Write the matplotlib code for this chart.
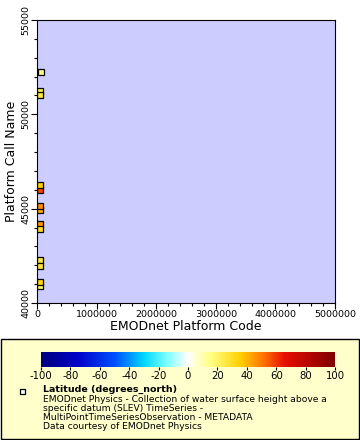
import numpy as np
import matplotlib
matplotlib.use("Agg")
import matplotlib.pyplot as plt
from matplotlib.colors import LinearSegmentedColormap, Normalize
from matplotlib.patches import Rectangle
from matplotlib.ticker import MultipleLocator, ScalarFormatter

plt.rcParams["axes.unicode_minus"] = False

# platform code (x), call name (y), latitude (colour) -- drawn in this order
platform_code = [60000, 55000, 55000, 50000, 55000, 50000, 55000, 50000, 55000, 50000, 50000, 45000, 45000]
call_name = [52258, 51237, 51022, 45970, 46237, 44946, 45161, 44193, 43925, 42258, 41935, 40914, 41129]
latitude = [16, 24, 26, 58, 36, 42, 47, 46, 30, 26, 27, 20, 33]

cbar_ticks = [-100, -80, -60, -40, -20, 0, 20, 40, 60, 80, 100]

cmap = LinearSegmentedColormap.from_list("erddap", [
    (0.00, "#000080"), (0.12, "#0000C8"), (0.25, "#0050FF"),
    (0.35, "#00D8FF"), (0.43, "#80FFFF"), (0.50, "#FFFFFF"),
    (0.58, "#FFFF80"), (0.68, "#FFD000"), (0.76, "#FF7000"),
    (0.83, "#E81000"), (1.00, "#800000")])
norm = Normalize(-100, 100)

fig = plt.figure(figsize=(3.6, 4.4), dpi=100)

# legend box behind everything
fig.patches.append(Rectangle((0.5/360, 1-439/440), 358/360, 100/440,
                             transform=fig.transFigure, facecolor="#FFFFCC",
                             edgecolor="black", linewidth=1, zorder=-5))

ax = fig.add_axes([37/360, 1-303/440, 298/360, 283/440])
ax.set_facecolor("#CCCCFF")

for x, y, lat in zip(platform_code, call_name, latitude):
    ax.plot(x, y, "s", ms=5, mfc=cmap(norm(lat)), mec="black", mew=0.9)

ax.set_xlim(0, 5000000)
ax.set_ylim(40000, 55000)
fmt = ScalarFormatter(useOffset=False)
fmt.set_scientific(False)
ax.xaxis.set_major_formatter(fmt)
ax.xaxis.set_major_locator(MultipleLocator(1000000))
ax.xaxis.set_minor_locator(MultipleLocator(200000))
ax.yaxis.set_major_locator(MultipleLocator(5000))
ax.yaxis.set_minor_locator(MultipleLocator(1000))
ax.tick_params(labelsize=6.8, length=4, width=0.8, pad=1)
ax.tick_params(which="minor", length=2, width=0.8)
for lbl in ax.get_yticklabels():
    lbl.set_rotation(90)
    lbl.set_va("center")
ax.set_xlabel("EMODnet Platform Code", fontsize=9, labelpad=1)
ax.set_ylabel("Platform Call Name", fontsize=9, labelpad=2)

cax = fig.add_axes([41/360, 1-367/440, 294/360, 15/440])
grad = np.linspace(-100, 100, 400).reshape(1, -1)
cax.imshow(grad, aspect="auto", cmap=cmap, norm=norm, extent=[-100, 100, 0, 1])
cax.set_yticks([])
cax.set_xticks(cbar_ticks)
cax.tick_params(labelsize=7.3, length=2, pad=1)
for s in cax.spines.values():
    s.set_visible(False)

fig.patches.append(Rectangle((19.5/360, 1-393.5/440), 5/360, 5/440,
                             transform=fig.transFigure, facecolor="white",
                             edgecolor="black", linewidth=0.9))
fig.text(43/360, 1-389/440, "Latitude (degrees_north)", fontsize=6.8,
         fontweight="bold", va="center")
lines = ["EMODnet Physics - Collection of water surface height above a",
         "specific datum (SLEV) TimeSeries -",
         "MultiPointTimeSeriesObservation - METADATA",
         "Data courtesy of EMODnet Physics"]
for i, t in enumerate(lines):
    fig.text(43/360, 1-(399 + 9.2*i)/440, t, fontsize=6.6, va="center")

fig.savefig("out.png", dpi=100)
